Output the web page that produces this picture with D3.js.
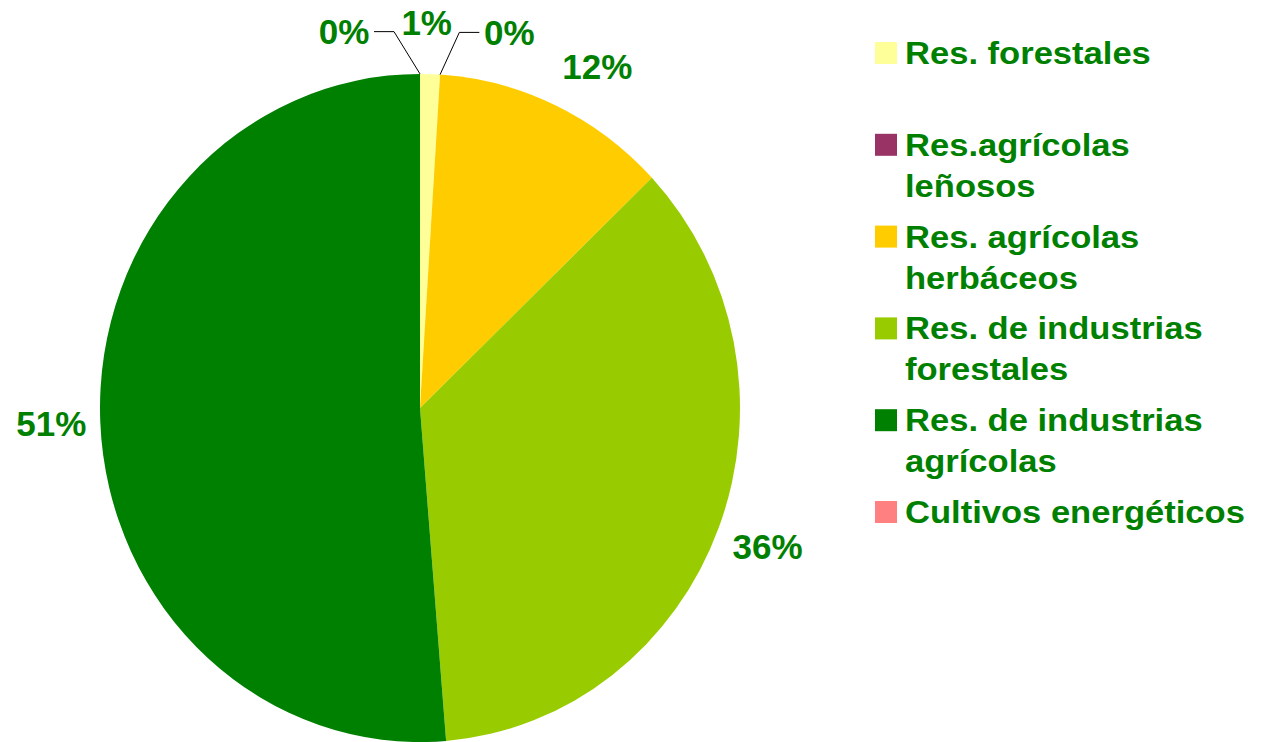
<!DOCTYPE html>
<html>
<head>
<meta charset="utf-8">
<script src="https://cdn.jsdelivr.net/npm/d3@7"></script>
<style>
  body { margin: 0; background: #fff; }
  svg { display: block; }
  text { font-family: 'Liberation Sans', Arial, sans-serif; font-weight: bold; fill: #008000; }
</style>
</head>
<body>
<div id="chart"></div>
<script>
const WIDTH = 1270;
const HEIGHT = 742;

// datos (porcentajes)
const categories = [
  'Res. forestales',
  'Res.agrícolas\nleñosos',
  'Res. agrícolas\nherbáceos',
  'Res. de industrias\nforestales',
  'Res. de industrias\nagrícolas',
  'Cultivos energéticos'
];
const values = [1.0, 0.0, 11.9, 35.8, 51.3, 0.0];
const labels = ['1%', '0%', '12%', '36%', '51%', '0%'];
const colors = ['#FFFF99', '#993366', '#FFCC00', '#99CC00', '#008000', '#FF8080'];

// geometría
const cx = 420;
const cy = 408;
const R = 320;
const STRETCH = 1.044;
const LABEL_R = 372;
// desplazamiento de etiquetas pequeñas (como hace Excel)
const nudge = [[-5, 3], [66, 12], [20, 10], [0, 0], [3, 0], [-76, 12]];
const leader = [false, true, false, false, false, true];

const svg = d3.select('#chart').append('svg')
  .attr('width', WIDTH)
  .attr('height', HEIGHT);

const pie = d3.pie().sort(null).value(d => d.value);
const data = pie(categories.map((c, i) => ({ name: c, value: values[i], label: labels[i], color: colors[i] })));
const arc = d3.arc().innerRadius(0).outerRadius(R);

const pieG = svg.append('g')
  .attr('transform', `translate(${cx},${cy}) scale(1,${STRETCH})`);

pieG.selectAll('path')
  .data(data)
  .enter()
  .append('path')
  .attr('d', arc)
  .attr('fill', d => d.data.color);

// etiquetas de porcentaje
const FS = 35;
data.forEach((d, i) => {
  const a = (d.startAngle + d.endAngle) / 2;
  const lx = cx + LABEL_R * Math.sin(a) + nudge[i][0];
  const ly = cy - LABEL_R * STRETCH * Math.cos(a) + nudge[i][1];

  svg.append('text')
    .attr('x', lx)
    .attr('y', ly + FS * 0.358)
    .attr('text-anchor', 'middle')
    .style('font-size', `${FS}px`)
    .text(d.data.label);

  if (leader[i]) {
    const ex = cx + R * Math.sin(a);
    const ey = cy - R * STRETCH * Math.cos(a);
    const side = Math.sign(nudge[i][0]);
    const sx = lx - side * 30;
    const kx = sx - side * 20;
    svg.append('path')
      .attr('d', d3.line()([[sx, ly], [kx, ly], [ex, ey]]))
      .attr('fill', 'none')
      .attr('stroke', '#000')
      .attr('stroke-width', 1);
  }
});

// leyenda
const legend = svg.append('g').attr('class', 'legend');
const LEG_X = 875;
const LEG_TOP = 64;
const LEG_STEP = 91.8;
const LINE_H = 41;
const BOX = 22;
const TEXT_X = LEG_X + 30;

categories.forEach((c, i) => {
  const base = LEG_TOP + i * LEG_STEP;
  legend.append('rect')
    .attr('x', LEG_X)
    .attr('y', base - BOX)
    .attr('width', BOX)
    .attr('height', BOX)
    .attr('fill', colors[i]);

  const t = legend.append('text')
    .attr('transform', `translate(${TEXT_X},${base}) scale(1.08,1)`)
    .style('font-size', '32px');
  c.split('\n').forEach((line, j) => {
    t.append('tspan')
      .attr('x', 0)
      .attr('y', j * LINE_H)
      .text(line);
  });
});
</script>
</body>
</html>
